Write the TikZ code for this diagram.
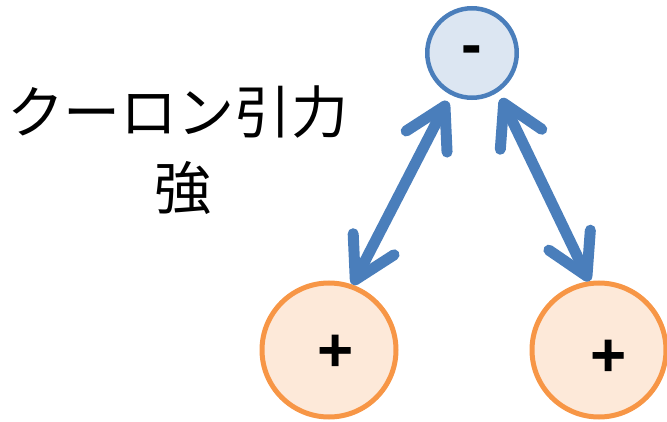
\documentclass[tikz,border=0pt]{standalone}
\usepackage{fontspec}
\setmainfont{Liberation Sans}
\newfontfamily\jpfont{Noto Sans CJK JP}
\usetikzlibrary{arrows.meta, positioning, calc}

\definecolor{ionblue}{HTML}{4A7EBB}
\definecolor{ionbluefill}{HTML}{DCE6F2}
\definecolor{ionorange}{HTML}{F79646}
\definecolor{ionorangefill}{HTML}{FDE9D9}

\tikzset{
    anion/.style = {circle, draw=ionblue, fill=ionbluefill, line width=4.5pt, minimum size=89.5pt, inner sep=0pt},
    cation/.style = {circle, draw=ionorange, fill=ionorangefill, line width=5pt, minimum size=134pt, inner sep=0pt},
    sign/.style = {font=\bfseries\fontsize{62}{62}\selectfont, inner sep=0pt, anchor=center},
    jptext/.style = {font=\jpfont\fontsize{57}{76}\selectfont, inner sep=0pt, anchor=center},
    attract/.style = {draw=ionblue, line width=11pt,
        {Straight Barb[length=40pt, width=46pt, round]}-{Straight Barb[length=40pt, width=46pt, round]}}
}

\begin{document}
\begin{tikzpicture}[x=1pt, y=-1pt]
    \useasboundingbox (0,0) rectangle (667,422);

    % ions
    \node[anion] (A) at (472,53) {};
    \node[cation] (C1) at (329,350) {};
    \node[cation] (C2) at (599,350) {};
    \node[sign] (minus) at (472,56) {-};
    \node[sign] (plus1) at (336,353) {+};
    \node[sign] (plus2) at (609,358) {+};

    % label
    \node[jptext] (coulomb) at (178,112) {クーロン引力};
    \node[jptext] (strong) at (183,188) {強};

    % attraction
    \draw[attract, shorten <=7pt] (A.243) -- (C1.70);
    \draw[attract, shorten <=7pt] (A.304) -- (C2.98);
\end{tikzpicture}
\end{document}
